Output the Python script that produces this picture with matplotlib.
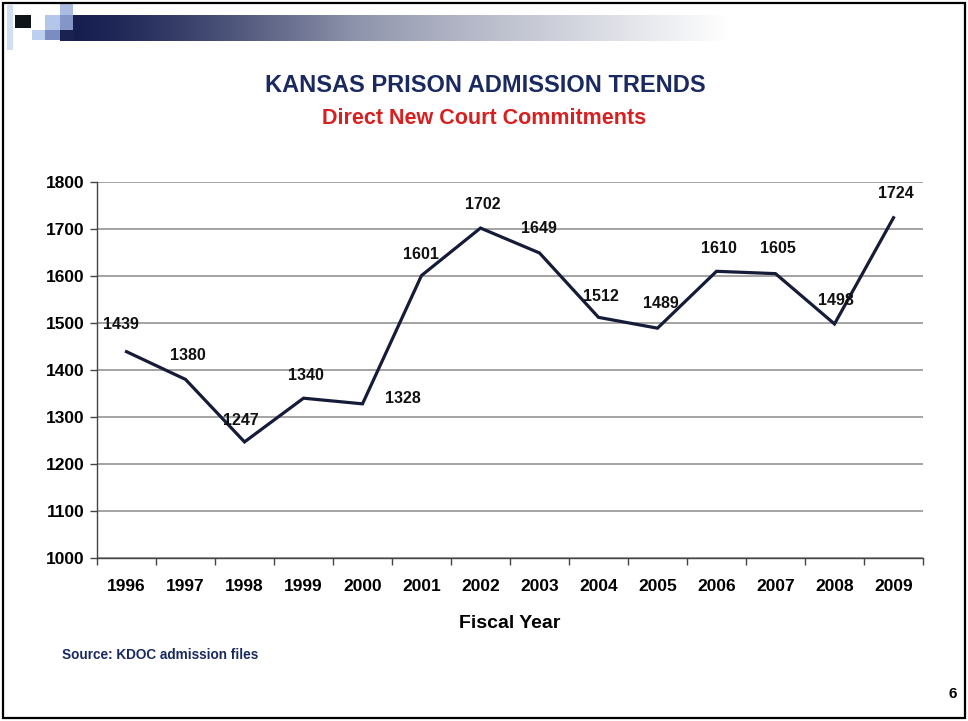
import numpy as np
import matplotlib
matplotlib.use("Agg")
import matplotlib.pyplot as plt
from matplotlib.patches import Rectangle

years = ["1996", "1997", "1998", "1999", "2000", "2001", "2002",
         "2003", "2004", "2005", "2006", "2007", "2008", "2009"]
admissions = [1439, 1380, 1247, 1340, 1328, 1601, 1702,
              1649, 1512, 1489, 1610, 1605, 1498, 1724]
y_ticks = [1000, 1100, 1200, 1300, 1400, 1500, 1600, 1700, 1800]

title = "KANSAS PRISON ADMISSION TRENDS"
subtitle = "Direct New Court Commitments"
xlabel = "Fiscal Year"
source = "Source: KDOC admission files"

# label offsets in pixels (style only)
label_dx = [-6, 2, -4, 2, 40, -1, 2, -1, 2, 3, 2, 2, 1, 2]
label_dy = [27, 24, 21, 23, 5, 21, 24, 24, 21, 25, 23, 25, 23, 24]

plt.rcParams['font.family'] = ['Liberation Sans', 'DejaVu Sans']
W, H = 968, 721
fig = plt.figure(figsize=(W / 100, H / 100), dpi=100)
fig.patch.set_facecolor("white")

navy = "#1a2a60"
line_c = "#161c38"

# header decoration
hdr = fig.add_axes([0, 0, 1, 1], zorder=-5)
hdr.set_xlim(0, W)
hdr.set_ylim(H, 0)
hdr.axis("off")
n = 500
cols = np.zeros((1, n, 3))
start = np.array([0x16, 0x1e, 0x50]) / 255
mid = np.array([0x8a, 0x90, 0xa8]) / 255
end = np.array([1.0, 1.0, 1.0])
for i, t in enumerate(np.linspace(0, 1, n)):
    if t < 0.42:
        c = start + (mid - start) * (t / 0.42) ** 1.3
    else:
        c = mid + (end - mid) * ((t - 0.42) / 0.58) ** 0.9
    cols[0, i] = c
hdr.imshow(cols, extent=[73, 730, 41, 15], aspect="auto", interpolation="bilinear")
hdr.add_patch(Rectangle((60, 30), 14, 11, color="#1a2252", lw=0))
hdr.add_patch(Rectangle((7, 5), 6, 45, color="#d2def2", lw=0))
hdr.add_patch(Rectangle((15, 15), 16, 13, color="#0e1418", lw=0))
hdr.add_patch(Rectangle((45, 15), 15, 15, color="#b4c6ea", lw=0))
hdr.add_patch(Rectangle((60, 3), 13, 12, color="#aabce2", lw=0))
hdr.add_patch(Rectangle((60, 15), 13, 15, color="#8496c8", lw=0))
hdr.add_patch(Rectangle((32, 30), 13, 10, color="#bccfee", lw=0))
hdr.add_patch(Rectangle((45, 30), 15, 10, color="#7a8cc0", lw=0))
hdr.add_patch(Rectangle((3, 3), W - 6, H - 6, fill=False, ec="black", lw=1.6))

fig.text(485 / W, 1 - 85 / H, title, ha="center", va="center",
         fontsize=17, fontweight="bold", color=navy)
fig.text(484 / W, 1 - 118 / H, subtitle, ha="center", va="center",
         fontsize=15.5, fontweight="bold", color="#d82020")
fig.text(62 / W, 1 - 655 / H, source, ha="left", va="center",
         fontsize=9.8, fontweight="bold", color=navy)
fig.text(953 / W, 1 - 694 / H, "6", ha="center", va="center",
         fontsize=11, fontweight="bold", color="black")

ax = fig.add_axes([97 / W, 163 / H, 826 / W, 376 / H])
x = np.arange(len(years))
ax.plot(x, admissions, color=line_c, lw=2.3, solid_joinstyle="miter", zorder=3)
for i, v in enumerate(admissions):
    ax.annotate(str(v), (x[i], v), xytext=(label_dx[i], label_dy[i]),
                textcoords="offset pixels", ha="center", va="center",
                fontsize=11.5, fontweight="bold", color="#111111", zorder=4)

ax.set_xlim(-0.5, len(years) - 0.5)
ax.set_ylim(y_ticks[0], y_ticks[-1])
ax.set_yticks(y_ticks)
ax.set_yticklabels([str(t) for t in y_ticks], fontsize=12.5, fontweight="bold")
ax.set_xticks(np.arange(-0.5, len(years), 1.0))
ax.set_xticklabels([])
ax.set_xticks(x, minor=True)
ax.set_xticklabels(years, minor=True, fontsize=12.5, fontweight="bold")
ax.tick_params(axis="x", which="minor", length=0, pad=15)
ax.tick_params(axis="x", which="major", length=5, width=1, color="#444444", direction="out")
ax.tick_params(axis="y", length=5, width=1, color="#444444", direction="out", pad=4)
ax.yaxis.grid(True, color="#8a8a8a", lw=1.1)
ax.set_axisbelow(True)
for s in ["top", "right"]:
    ax.spines[s].set_visible(False)
for s in ["left", "bottom"]:
    ax.spines[s].set_color("#444444")
    ax.spines[s].set_linewidth(1)
ax.set_xlabel(xlabel, fontsize=14, fontweight="bold", labelpad=15)

fig.savefig("out.png", dpi=100, facecolor="white")
